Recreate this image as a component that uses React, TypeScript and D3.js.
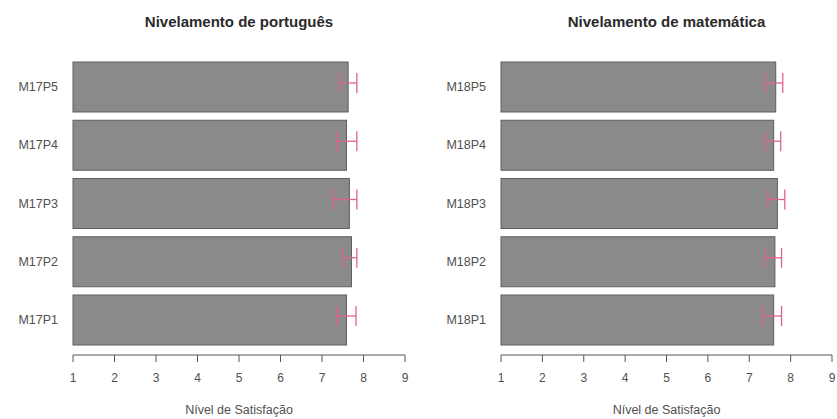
import React from "react";
import * as d3 from "d3";

const W = 837;
const H = 419;

const ptCategories = ["M17P1", "M17P2", "M17P3", "M17P4", "M17P5"];
const ptValues = [7.59, 7.71, 7.66, 7.59, 7.63];
const ptLower = [7.36, 7.51, 7.27, 7.36, 7.43];
const ptUpper = [7.82, 7.84, 7.84, 7.84, 7.84];

const mtCategories = ["M18P1", "M18P2", "M18P3", "M18P4", "M18P5"];
const mtValues = [7.59, 7.62, 7.68, 7.59, 7.64];
const mtLower = [7.33, 7.38, 7.45, 7.38, 7.38];
const mtUpper = [7.78, 7.78, 7.86, 7.76, 7.81];

const xTicks = [1, 2, 3, 4, 5, 6, 7, 8, 9];
const xTitle = "Nível de Satisfação";

type PanelProps = {
  title: string;
  cats: string[];
  values: number[];
  lower: number[];
  upper: number[];
  x0: number;
  x1: number;
};

function Panel({ title, cats, values, lower, upper, x0, x1 }: PanelProps) {
  const x = d3.scaleLinear().domain([1, 9]).range([x0, x1]);
  const y = d3
    .scaleBand<string>()
    .domain([...cats].reverse())
    .range([62, 345])
    .paddingInner(0.1416)
    .paddingOuter(0);
  const bw = y.bandwidth();
  const axisY = 355;
  const font = "Liberation Sans, Arial, sans-serif";
  return (
    <g>
      <text
        x={(x0 + x1) / 2}
        y={21}
        textAnchor="middle"
        dominantBaseline="central"
        fontFamily={font}
        fontWeight="bold"
        fontSize={15}
        fill="#2a2a2a"
      >
        {title}
      </text>
      {cats.map((c, i) => {
        const yy = y(c) as number;
        const ey = yy + bw * 0.42;
        return (
          <g key={c}>
            <rect
              x={x(1)}
              y={yy}
              width={x(values[i]) - x(1)}
              height={bw}
              fill="#8a8a8a"
              stroke="#5e5e5e"
              strokeWidth={1}
            />
            <text
              x={x0 - 15}
              y={yy + bw / 2}
              textAnchor="end"
              dominantBaseline="central"
              fontFamily={font}
              fontSize={12.5}
              fill="#505050"
            >
              {c}
            </text>
            <g stroke="#e2628a" strokeWidth={1.3} fill="none">
              <line x1={x(lower[i])} x2={x(upper[i])} y1={ey} y2={ey} />
              <line x1={x(lower[i])} x2={x(lower[i])} y1={ey - 10} y2={ey + 10} />
              <line x1={x(upper[i])} x2={x(upper[i])} y1={ey - 10} y2={ey + 10} />
            </g>
          </g>
        );
      })}
      <line x1={x(1)} x2={x(9)} y1={axisY} y2={axisY} stroke="#555" strokeWidth={1} />
      {xTicks.map((t) => (
        <g key={t}>
          <line x1={x(t)} x2={x(t)} y1={axisY} y2={axisY + 7} stroke="#555" strokeWidth={1} />
          <text
            x={x(t)}
            y={378}
            textAnchor="middle"
            dominantBaseline="central"
            fontFamily={font}
            fontSize={12}
            fill="#505050"
          >
            {t}
          </text>
        </g>
      ))}
      <text
        x={(x0 + x1) / 2}
        y={410}
        textAnchor="middle"
        dominantBaseline="central"
        fontFamily={font}
        fontSize={12.5}
        fill="#505050"
      >
        {xTitle}
      </text>
    </g>
  );
}

export default function App() {
  return (
    <svg
      width={W}
      height={H}
      style={{ position: "absolute", left: 0, top: 0, background: "#fff" }}
    >
      <Panel
        title="Nivelamento de português"
        cats={ptCategories}
        values={ptValues}
        lower={ptLower}
        upper={ptUpper}
        x0={73}
        x1={405}
      />
      <Panel
        title="Nivelamento de matemática"
        cats={mtCategories}
        values={mtValues}
        lower={mtLower}
        upper={mtUpper}
        x0={501}
        x1={832}
      />
    </svg>
  );
}
